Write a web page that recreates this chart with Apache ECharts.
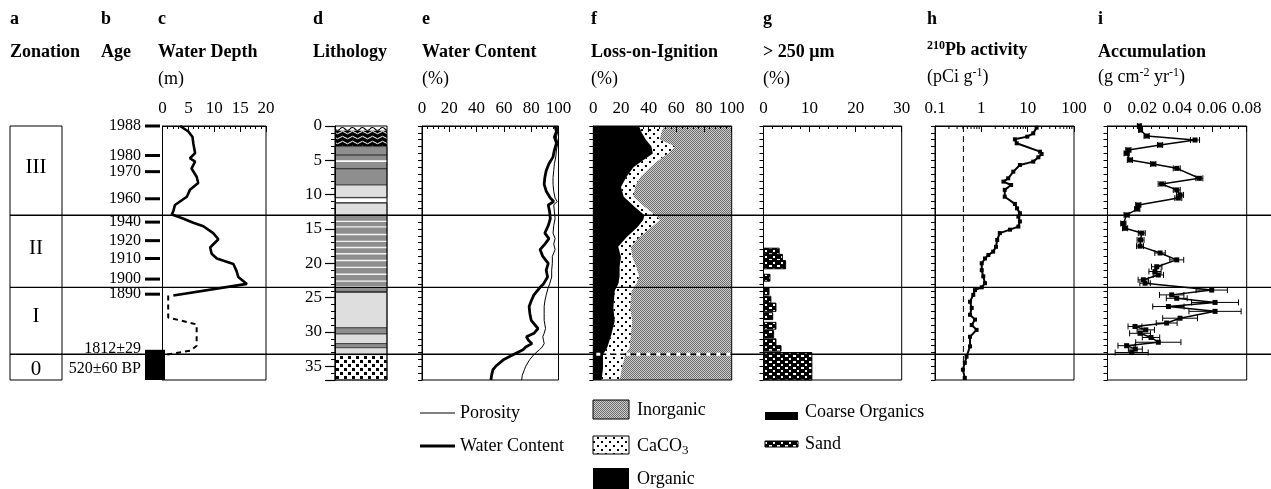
<!DOCTYPE html>
<html><head><meta charset="utf-8">
<script src="https://cdn.jsdelivr.net/npm/echarts@6/dist/echarts.min.js"></script>
<style>html,body{margin:0;padding:0;background:#fff}#c{width:1271px;height:489px}</style>
</head><body><div id="c"></div>
<script>
// ---------------- data ----------------
const zoneNames = ['III', 'II', 'I', '0'];
const zoneLabelDepth = [6.1, 17.8, 27.8, 35.4];
const zoneBreaks = [13.0, 23.5, 33.25];

const ageLabels = ['1988', '1980', '1970', '1960', '1940', '1920', '1910', '1900', '1890', '1812±29', '520±60 BP'];
const ageDepth = [0, 4.3, 6.65, 10.6, 14.0, 16.7, 19.3, 22.3, 24.5, 32.9, 35.4];
const ageHasTick = [1, 1, 1, 1, 1, 1, 1, 1, 1, 1, 0];
const coarseOrgTop = [32.6];
const coarseOrgBot = [37];

const wdDepth = [0, 0.8, 1.6, 2.5, 3.95, 4.7, 5.2, 6.2, 7.4, 8.3, 9.3, 10.3, 11.5, 12.4, 12.9, 13.4, 14.1, 14.6, 15.6, 16.5, 17.7, 18.6, 19.3, 20.1, 21.1, 22.0, 23.0, 24.7];
const wdValue = [3.4, 5.0, 5.8, 5.95, 6.3, 5.3, 6.3, 5.6, 6.6, 6.9, 5.3, 4.7, 2.4, 2.1, 1.8, 3.7, 5.95, 7.9, 9.8, 10.8, 9.2, 9.5, 10.5, 13.7, 14.3, 14.65, 16.3, 2.1];
const wdDashDepth = [24.7, 27.9, 28.9, 32.0, 32.7, 33.3];
const wdDashValue = [1.1, 1.1, 6.6, 6.6, 5.5, 0.8];

const lithTop = [0, 0.7, 3.0, 4.15, 5.0, 6.15, 8.6, 10.4, 10.55, 11.1, 11.25, 13.0, 24.1, 24.25, 29.4, 30.3, 31.7, 32.3, 33.3];
const lithBot = [0.7, 3.0, 8.6, 4.3, 5.25, 6.3, 10.4, 10.55, 11.1, 11.25, 13.0, 24.1, 24.25, 29.4, 30.3, 31.7, 32.3, 33.3, 37];
const lithType = ['wave', 'orgsand', 'dark', 'line', 'white', 'line', 'light', 'line', 'white', 'line', 'light', 'dark', 'line', 'light', 'dark', 'light', 'dark', 'light', 'gravel'];
const lithStripe = [13.9, 14.7, 15.8, 16.8, 17.7, 18.6, 19.6, 20.6, 21.6, 22.6, 23.4];

const wcDepth = [0, 0.8, 1.6, 2.5, 3.5, 4.5, 5.5, 6.5, 7.5, 8.5, 9.5, 10.5, 11, 11.5, 12.5, 13.5, 14.5, 15.6, 16.4, 17.2, 18, 19, 20, 21, 22, 23, 23.5, 24.6, 25.5, 26.3, 27.3, 28.3, 29.5, 30.2, 30.7, 31.2, 31.7, 32.2, 32.6, 33.3, 34, 35, 35.5, 36.3, 37];
const wcWater = [97.5, 98.5, 97, 98.5, 97, 96, 93, 91, 90, 89.5, 91, 94, 96.5, 92.5, 93.5, 94, 92.5, 90, 93, 90, 86.5, 88.5, 92.5, 91, 92, 89, 86.5, 82, 80, 78.5, 79, 80, 85, 82, 76.5, 78, 80.5, 76, 74, 67, 60, 54, 52, 51, 50.5];
const wcPorosity = [99, 99.5, 98.5, 99.5, 98.5, 98, 97, 96.5, 96, 96, 96.5, 97.5, 99, 96.5, 97, 97.5, 96.5, 96, 97.5, 96.5, 97.5, 95.5, 95.5, 95, 95, 93.5, 92.5, 91, 90, 89.5, 89.5, 89.5, 90.5, 89.5, 88.5, 89, 89.5, 88, 86, 82, 79, 76, 75, 73.5, 73];

const loiDepth = [0, 1, 2, 3, 4, 5, 6, 7.4, 8.9, 10.3, 11.8, 13, 13.7, 14.7, 16.2, 17.6, 19.1, 20.5, 21.9, 23, 24, 26.5, 28.4, 30.4, 32.3, 33.3, 35.3, 37];
const loiOrganic = [33, 35, 38, 42, 43, 36, 29, 24, 20, 22, 30, 37, 36, 32, 24, 18, 20, 19, 19, 18, 15.5, 14.5, 15.5, 13, 10, 7, 7, 6];
const loiCaCO3 = [18, 14, 10, 17, 11, 11, 12, 10, 10, 7, 7, 8, 12, 10, 9, 9, 8, 12, 14, 13, 12, 12, 12.5, 14, 16, 16, 13.5, 13];

const sandTop = [17.8, 18.7, 19.6, 21.6, 23.6, 24.8, 25.8, 27.2, 28.6, 29.8, 31.0, 32.0, 33.0];
const sandBot = [18.7, 19.6, 20.8, 22.6, 24.6, 25.8, 27.0, 28.2, 29.6, 30.8, 32.0, 32.8, 37];
const sandVal = [3.4, 4.1, 4.8, 1.4, 1.2, 1.6, 2.7, 2.0, 2.7, 2.2, 2.7, 3.8, 10.5];

const pbDepth = [0.24, 1.07, 1.55, 1.94, 2.52, 3.74, 4.08, 4.56, 5.19, 5.68, 6.65, 7.62, 8.1, 8.6, 9.3, 10.3, 11.35, 12.0, 12.7, 13.2, 13.9, 14.65, 15.1, 15.6, 16.6, 17.6, 18.3, 18.8, 19.3, 20.0, 21.0, 21.9, 22.9, 23.5, 23.9, 24.6, 25.6, 26.5, 27.5, 28.2, 29.0, 29.7, 30.7, 32.1, 33.6, 34.5, 35.5, 36.7];
const pbValue = [15.6, 13.2, 9.8, 5.3, 5.8, 18.5, 20, 17, 13.2, 6.8, 4.9, 3.8, 3.0, 4.4, 3.2, 3.2, 5.3, 5.9, 6.8, 6.3, 6.8, 6.3, 4.15, 2.5, 2.2, 2.07, 1.8, 1.42, 1.2, 1.02, 1.02, 1.1, 1.2, 1.02, 0.73, 0.67, 0.57, 0.62, 0.57, 0.73, 0.62, 0.79, 0.57, 0.57, 0.48, 0.44, 0.40, 0.44];
const pbSupported = [0.41];
const pbMinorTicks = [0.2, 0.3, 0.4, 0.5, 0.6, 0.7, 0.8, 0.9, 2, 3, 4, 5, 6, 7, 8, 9, 20, 30, 40, 50, 60, 70, 80, 90];

const accDepth = [0, 0.58, 1.46, 2.04, 2.77, 3.49, 3.98, 4.95, 5.53, 6.17, 7.62, 8.44, 9.31, 10.04, 10.5, 11.5, 12.1, 12.95, 14.2, 14.9, 15.6, 16.6, 17.5, 18.5, 19.5, 20.5, 21.2, 21.7, 22.4, 22.9, 23.9, 24.6, 25.1, 25.7, 26.3, 27.0, 28.0, 28.7, 29.2, 29.7, 30.2, 30.8, 31.5, 32.0, 32.5, 33.0];
const accValue = [0.0183, 0.019, 0.0225, 0.0503, 0.0302, 0.012, 0.011, 0.0129, 0.0263, 0.0398, 0.0528, 0.0311, 0.0398, 0.0417, 0.0407, 0.0177, 0.0171, 0.011, 0.0091, 0.0101, 0.0197, 0.019, 0.0187, 0.0302, 0.0398, 0.0283, 0.0273, 0.0292, 0.0206, 0.0216, 0.0599, 0.0369, 0.0398, 0.0618, 0.035, 0.0618, 0.0417, 0.034, 0.0158, 0.022, 0.0187, 0.025, 0.0292, 0.011, 0.016, 0.0139];
const accErr = [0.001, 0.001, 0.0015, 0.0026, 0.0015, 0.0015, 0.0015, 0.0015, 0.0015, 0.002, 0.002, 0.002, 0.002, 0.002, 0.002, 0.0015, 0.0015, 0.0015, 0.0015, 0.0015, 0.002, 0.002, 0.002, 0.003, 0.004, 0.003, 0.0035, 0.003, 0.003, 0.003, 0.009, 0.007, 0.006, 0.0135, 0.009, 0.015, 0.01, 0.006, 0.004, 0.005, 0.006, 0.005, 0.013, 0.005, 0.004, 0.0095];

// ---------------- styles ----------------
const FONT = '"Liberation Serif","Times New Roman",serif';
function pat(w, h, fn) {
  const c = document.createElement('canvas'); c.width = w; c.height = h;
  const g = c.getContext('2d'); fn(g, w, h); return { image: c, repeat: 'repeat' };
}
const inorgPat = pat(2, 2, g => { g.fillStyle = '#d0d0d0'; g.fillRect(0, 0, 2, 2); g.fillStyle = '#6a6a6a'; g.fillRect(0, 0, 1, 1); g.fillRect(1, 1, 1, 1); });
const caco3Pat = pat(8, 8, g => { g.fillStyle = '#fff'; g.fillRect(0, 0, 8, 8); g.fillStyle = '#000'; g.fillRect(1, 1, 2, 2); g.fillRect(5, 5, 2, 2); });
const sandPat = pat(8, 6, g => { g.fillStyle = '#000'; g.fillRect(0, 0, 8, 6); g.fillStyle = '#fff'; g.fillRect(1, 1, 3, 2); g.fillRect(5, 4, 2, 2); });
const gravelPat = pat(8, 8, g => { g.fillStyle = '#fff'; g.fillRect(0, 0, 8, 8); g.fillStyle = '#000'; g.fillRect(0, 0, 3, 3); g.fillRect(4, 4, 3, 3); });
const wavePat = pat(10, 6, g => { g.fillStyle = '#fff'; g.fillRect(0, 0, 10, 6); g.strokeStyle = '#000'; g.lineWidth = 1.2; g.beginPath(); g.moveTo(0, 3); g.quadraticCurveTo(2.5, 0, 5, 3); g.quadraticCurveTo(7.5, 6, 10, 3); g.stroke(); });
const orgSandPat = pat(10, 5, g => { g.fillStyle = '#000'; g.fillRect(0, 0, 10, 5); g.strokeStyle = '#fff'; g.lineWidth = 1; g.beginPath(); g.moveTo(0, 2.5); g.quadraticCurveTo(2.5, 0, 5, 2.5); g.quadraticCurveTo(7.5, 5, 10, 2.5); g.stroke(); });
const lithFill = { dark: '#8e8e8e', light: '#dedede', white: '#ffffff', line: '#222', wave: wavePat, orgsand: orgSandPat, gravel: gravelPat };

// ---------------- layout helpers ----------------
const TOP = 126, H = 254;
const G = (left, width, show) => ({ left, width, top: TOP, height: H, show: show !== false, borderColor: '#000', borderWidth: 1, backgroundColor: 'transparent', z: 5 });
const hiddenX = gi => ({ gridIndex: gi, type: 'value', min: 0, max: 1, show: false });
const axisTxt = { color: '#000', fontFamily: FONT, fontSize: 17 };
function topX(gi, min, max, interval, split, extra) {
  return Object.assign({
    gridIndex: gi, type: 'value', position: 'top', min, max, interval, z: 6,
    axisLine: { show: true, lineStyle: { color: '#000', width: 1 } },
    axisTick: { show: true, inside: true, length: 6, lineStyle: { color: '#000', width: 1 } },
    minorTick: { show: true, splitNumber: split, length: 3, lineStyle: { color: '#000', width: 1 } },
    axisLabel: Object.assign({ show: true, margin: 9 }, axisTxt),
    splitLine: { show: false }, minorSplitLine: { show: false }
  }, extra || {});
}
function depthY(gi, extra) {
  return Object.assign({
    gridIndex: gi, type: 'value', min: 0, max: 37, inverse: true, interval: 1, z: 6,
    axisLine: { show: true, lineStyle: { color: '#000', width: 1 } },
    axisTick: { show: true, length: 4, lineStyle: { color: '#000', width: 1 } },
    axisLabel: { show: false }, splitLine: { show: false }
  }, extra || {});
}
const lineStyleTxt = (size, bold) => `${bold ? 'bold ' : ''}${size}px ${FONT}`;

// ---------------- titles ----------------
const supRich = { sup: { fontFamily: FONT, fontSize: 12, fontWeight: 'bold', color: '#000', padding: [0, 0, 9, 0] } };
const supRichN = { sup: { fontFamily: FONT, fontSize: 12, color: '#000', padding: [0, 0, 9, 0] } };
const T = (text, left, top, bold, rich) => ({ text, left, top, padding: 0, textStyle: { fontFamily: FONT, fontSize: 18, fontWeight: bold ? 'bold' : 'normal', color: '#000', rich: rich || {} } });
const titles = [
  T('a', 10, 10, true), T('Zonation', 10, 43, true),
  T('b', 101, 10, true), T('Age', 101, 43, true),
  T('c', 158, 10, true), T('Water Depth', 158, 43, true), T('(m)', 158, 70, false),
  T('d', 313, 10, true), T('Lithology', 313, 43, true),
  T('e', 422, 10, true), T('Water Content', 422, 43, true), T('(%)', 422, 70, false),
  T('f', 591, 10, true), T('Loss-on-Ignition', 591, 43, true), T('(%)', 591, 70, false),
  T('g', 763, 10, true), T('> 250 μm', 763, 43, true), T('(%)', 763, 70, false),
  T('h', 927, 10, true), T('{sup|210}Pb activity', 927, 40, true, supRich), T('(pCi g{sup|-1})', 927, 67, false, supRichN),
  T('i', 1098, 10, true), T('Accumulation', 1098, 43, true), T('(g cm{sup|-2} yr{sup|-1})', 1098, 67, false, supRichN)
];

// ---------------- series ----------------
const series = [];
// zone boundary lines across the whole figure
series.push({
  type: 'custom', xAxisIndex: 0, yAxisIndex: 0, z: 10, silent: true,
  data: zoneBreaks.map(b => [0, b]),
  renderItem: (p, api) => {
    const a = api.coord([0, api.value(1)]), b = api.coord([1, api.value(1)]);
    return { type: 'line', shape: { x1: a[0], y1: a[1], x2: b[0], y2: b[1] }, style: { stroke: '#000', lineWidth: 1.3 } };
  }
});
// zonation labels
series.push({
  type: 'custom', xAxisIndex: 1, yAxisIndex: 1, silent: true,
  data: zoneLabelDepth.map(d => [0.5, d]),
  renderItem: (p, api) => {
    const c = api.coord([0.5, api.value(1)]);
    return { type: 'text', style: { text: zoneNames[p.dataIndex], x: c[0], y: c[1], align: 'center', verticalAlign: 'middle', font: lineStyleTxt(21, false), fill: '#000' } };
  }
});
// age ticks + labels
series.push({
  type: 'custom', xAxisIndex: 2, yAxisIndex: 2, silent: true,
  data: ageDepth.map(d => [0, d]),
  renderItem: (p, api) => {
    const i = p.dataIndex, d = api.value(1);
    const a = api.coord([0, d]), b = api.coord([0.75, d]);
    const ch = [{ type: 'text', style: { text: ageLabels[i], x: a[0] - 4, y: a[1] - (i === 9 ? 3 : 0), align: 'right', verticalAlign: 'middle', font: lineStyleTxt(16, false), fill: '#000' } }];
    if (ageHasTick[i]) ch.push({ type: 'line', shape: { x1: a[0], y1: a[1], x2: b[0], y2: b[1] }, style: { stroke: '#000', lineWidth: 3 } });
    return { type: 'group', children: ch };
  }
});
// coarse organics block
series.push({
  type: 'custom', xAxisIndex: 2, yAxisIndex: 2, silent: true,
  data: coarseOrgTop.map((t, i) => [0, t, coarseOrgBot[i]]),
  renderItem: (p, api) => {
    const a = api.coord([0, api.value(1)]), b = api.coord([1, api.value(2)]);
    return { type: 'rect', shape: { x: a[0], y: a[1], width: b[0] - a[0], height: b[1] - a[1] }, style: { fill: '#000' } };
  }
});
// water depth
series.push({ type: 'line', xAxisIndex: 3, yAxisIndex: 3, showSymbol: false, symbol: 'none', silent: true, data: wdDepth.map((d, i) => [wdValue[i], d]), lineStyle: { color: '#000', width: 2.6 } });
series.push({ type: 'line', xAxisIndex: 3, yAxisIndex: 3, showSymbol: false, symbol: 'none', silent: true, data: wdDashDepth.map((d, i) => [wdDashValue[i], d]), lineStyle: { color: '#000', width: 2, type: [5, 4] } });
// lithology
series.push({
  type: 'custom', xAxisIndex: 4, yAxisIndex: 4, silent: true,
  data: lithTop.map((t, i) => [0, t, lithBot[i]]),
  renderItem: (p, api) => {
    const i = p.dataIndex, t = lithType[i];
    const a = api.coord([0, api.value(1)]), b = api.coord([1, api.value(2)]);
    const st = (t === 'dark' || t === 'light' || t === 'gravel') ? { stroke: '#333', lineWidth: 0.8 } : {};
    return { type: 'rect', shape: { x: a[0], y: a[1], width: b[0] - a[0], height: b[1] - a[1] }, style: Object.assign({ fill: lithFill[t] }, st) };
  }
});
series.push({
  type: 'custom', xAxisIndex: 4, yAxisIndex: 4, silent: true,
  data: lithStripe.map(d => [0, d]),
  renderItem: (p, api) => {
    const a = api.coord([0, api.value(1)]), b = api.coord([1, api.value(1)]);
    return { type: 'line', shape: { x1: a[0], y1: a[1], x2: b[0], y2: b[1] }, style: { stroke: '#f4f4f4', lineWidth: 1.4 } };
  }
});
// water content
series.push({ type: 'line', name: 'Porosity', xAxisIndex: 5, yAxisIndex: 5, symbol: 'none', silent: true, data: wcDepth.map((d, i) => [wcPorosity[i], d]), lineStyle: { color: '#000', width: 1 } });
series.push({ type: 'line', name: 'Water Content', xAxisIndex: 5, yAxisIndex: 5, symbol: 'none', silent: true, data: wcDepth.map((d, i) => [wcWater[i], d]), lineStyle: { color: '#000', width: 2.8 } });
// LOI stacked fills
function loiRender(kind) {
  return (p, api) => {
    if (p.dataIndex !== 0) return null;
    const n = loiDepth.length, pts = [];
    let fill;
    if (kind === 'inorg') {
      for (let i = 0; i < n; i++) pts.push(api.coord([loiOrganic[i] + loiCaCO3[i], loiDepth[i]]));
      pts.push(api.coord([100, loiDepth[n - 1]])); pts.push(api.coord([100, loiDepth[0]]));
      fill = inorgPat;
    } else if (kind === 'ca') {
      for (let i = 0; i < n; i++) pts.push(api.coord([loiOrganic[i] + loiCaCO3[i], loiDepth[i]]));
      for (let i = n - 1; i >= 0; i--) pts.push(api.coord([loiOrganic[i], loiDepth[i]]));
      fill = caco3Pat;
    } else {
      pts.push(api.coord([0, loiDepth[0]]));
      for (let i = 0; i < n; i++) pts.push(api.coord([loiOrganic[i], loiDepth[i]]));
      pts.push(api.coord([0, loiDepth[n - 1]]));
      fill = '#000';
    }
    return { type: 'polygon', shape: { points: pts }, style: { fill } };
  };
}
series.push({ type: 'custom', name: 'Inorganic', xAxisIndex: 6, yAxisIndex: 6, silent: true, data: loiDepth.map((d, i) => [100 - loiOrganic[i] - loiCaCO3[i], d]), renderItem: loiRender('inorg') });
series.push({ type: 'custom', name: 'CaCO3', xAxisIndex: 6, yAxisIndex: 6, silent: true, data: loiDepth.map((d, i) => [loiCaCO3[i], d]), renderItem: loiRender('ca') });
series.push({ type: 'custom', name: 'Organic', xAxisIndex: 6, yAxisIndex: 6, silent: true, data: loiDepth.map((d, i) => [loiOrganic[i], d]), renderItem: loiRender('org') });
series.push({
  type: 'custom', xAxisIndex: 6, yAxisIndex: 6, silent: true, z: 11,
  data: [[0, zoneBreaks[2]]],
  renderItem: (p, api) => {
    const a = api.coord([0, api.value(1)]), b = api.coord([100, api.value(1)]);
    return { type: 'line', shape: { x1: a[0] + 3, y1: a[1], x2: b[0], y2: b[1] }, style: { stroke: '#fff', lineWidth: 3, lineDash: [4, 6] } };
  }
});
// >250 um sand bars
series.push({
  type: 'custom', xAxisIndex: 7, yAxisIndex: 7, silent: true,
  data: sandTop.map((t, i) => [sandVal[i], t, sandBot[i]]),
  renderItem: (p, api) => {
    const a = api.coord([0, api.value(1)]), b = api.coord([api.value(0), api.value(2)]);
    return { type: 'rect', shape: { x: a[0], y: a[1], width: b[0] - a[0], height: b[1] - a[1] }, style: { fill: sandPat, stroke: '#000', lineWidth: 1 } };
  }
});
// 210Pb
series.push({ type: 'line', xAxisIndex: 8, yAxisIndex: 8, silent: true, symbol: 'rect', symbolSize: 4, data: pbDepth.map((d, i) => [pbValue[i], d]), lineStyle: { color: '#000', width: 2 }, itemStyle: { color: '#000' } });
series.push({ type: 'line', xAxisIndex: 8, yAxisIndex: 8, silent: true, symbol: 'none', data: [[pbSupported[0], 0], [pbSupported[0], 37]], lineStyle: { color: '#000', width: 1, type: [6, 4] } });
series.push({
  type: 'custom', xAxisIndex: 8, yAxisIndex: 8, silent: true, z: 7,
  data: pbMinorTicks.map(v => [v, 0]),
  renderItem: (p, api) => {
    const a = api.coord([api.value(0), 0]);
    return { type: 'line', shape: { x1: a[0], y1: a[1], x2: a[0], y2: a[1] + 3 }, style: { stroke: '#000', lineWidth: 1 } };
  }
});
// accumulation
series.push({
  type: 'custom', xAxisIndex: 9, yAxisIndex: 9, silent: true,
  data: accDepth.map((d, i) => [accValue[i], d, accErr[i]]),
  renderItem: (p, api) => {
    const v = api.value(0), d = api.value(1), e = api.value(2);
    const a = api.coord([v - e, d]), b = api.coord([v + e, d]);
    const s = { stroke: '#000', lineWidth: 1 };
    return { type: 'group', children: [
      { type: 'line', shape: { x1: a[0], y1: a[1], x2: b[0], y2: b[1] }, style: s },
      { type: 'line', shape: { x1: a[0], y1: a[1] - 3, x2: a[0], y2: a[1] + 3 }, style: s },
      { type: 'line', shape: { x1: b[0], y1: b[1] - 3, x2: b[0], y2: b[1] + 3 }, style: s }
    ] };
  }
});
series.push({ type: 'line', xAxisIndex: 9, yAxisIndex: 9, silent: true, symbol: 'rect', symbolSize: 5, data: accDepth.map((d, i) => [accValue[i], d]), lineStyle: { color: '#000', width: 1.5 }, itemStyle: { color: '#000' } });

// ---------------- legend (graphic) ----------------
const LT = (x, y, text, rich) => ({ type: 'text', x, y, style: { text, font: lineStyleTxt(18, false), fill: '#000', verticalAlign: 'middle', rich: rich || {} } });
const graphic = [
  { type: 'line', shape: { x1: 420, y1: 413, x2: 455, y2: 413 }, style: { stroke: '#000', lineWidth: 1 } },
  LT(460, 413, 'Porosity'),
  { type: 'line', shape: { x1: 420, y1: 446, x2: 455, y2: 446 }, style: { stroke: '#000', lineWidth: 3 } },
  LT(460, 446, 'Water Content'),
  { type: 'rect', shape: { x: 593, y: 400, width: 36, height: 19 }, style: { fill: inorgPat, stroke: '#000', lineWidth: 1 } },
  LT(637, 410, 'Inorganic'),
  { type: 'rect', shape: { x: 593, y: 436, width: 36, height: 18 }, style: { fill: caco3Pat, stroke: '#000', lineWidth: 1 } },
  LT(637, 446, 'CaCO{s|3}', { s: { fontFamily: FONT, fontSize: 13, color: '#000', padding: [9, 0, 0, 0] } }),
  { type: 'rect', shape: { x: 593, y: 468, width: 36, height: 21 }, style: { fill: '#000' } },
  LT(637, 479, 'Organic'),
  { type: 'rect', shape: { x: 765, y: 412, width: 33, height: 8 }, style: { fill: '#000' } },
  LT(805, 412, 'Coarse Organics'),
  { type: 'rect', shape: { x: 765, y: 441, width: 33, height: 6 }, style: { fill: sandPat, stroke: '#000', lineWidth: 1 } },
  LT(805, 444, 'Sand')
];

// ---------------- option ----------------
const option = {
  animation: false,
  backgroundColor: '#fff',
  title: titles,
  grid: [
    G(10, 1261, false),   // 0 full-width (zone lines)
    G(10, 52),            // 1 zonation
    G(145, 20, false),    // 2 age
    G(162.5, 103.5),      // 3 water depth
    G(335, 52),           // 4 lithology
    G(422, 136.5),        // 5 water content
    G(593.3, 138.4),      // 6 LOI
    G(763.5, 138.2),      // 7 >250um
    G(935, 139),          // 8 210Pb
    G(1107.5, 139.2)      // 9 accumulation
  ],
  xAxis: [
    hiddenX(0), hiddenX(1), hiddenX(2),
    topX(3, 0, 20, 5, 5),
    hiddenX(4),
    topX(5, 0, 100, 20, 5),
    topX(6, 0, 100, 20, 5),
    topX(7, 0, 30, 10, 5),
    topX(8, 0.1, 100, null, 1, { type: 'log', logBase: 10, interval: undefined, minorTick: { show: false }, axisLabel: Object.assign({ show: true, margin: 9, formatter: v => String(+v.toPrecision(3)) }, axisTxt) }),
    topX(9, 0, 0.08, 0.02, 4, { axisLabel: Object.assign({ show: true, margin: 9, formatter: v => (v === 0 ? '0' : (+v).toFixed(2)) }, axisTxt) })
  ],
  yAxis: [
    depthY(0, { show: false }), depthY(1, { show: false }), depthY(2, { show: false }),
    depthY(3, { axisTick: { show: false } }),
    depthY(4, { axisLabel: Object.assign({ show: true, interval: 0, margin: 13, formatter: v => (v % 5 === 0 ? String(v) : '') }, axisTxt) }),
    depthY(5), depthY(6), depthY(7), depthY(8), depthY(9),
    { gridIndex: 4, type: 'value', position: 'left', min: 0, max: 37, inverse: true, interval: 5, z: 6,
      axisLine: { show: false }, axisTick: { show: true, length: 10, lineStyle: { color: '#000', width: 1.2 } },
      axisLabel: { show: false }, splitLine: { show: false } }
  ],
  series,
  graphic
};
const chart = echarts.init(document.getElementById('c'), null, { renderer: 'canvas', devicePixelRatio: 1 });
chart.setOption(option);
</script></body></html>
